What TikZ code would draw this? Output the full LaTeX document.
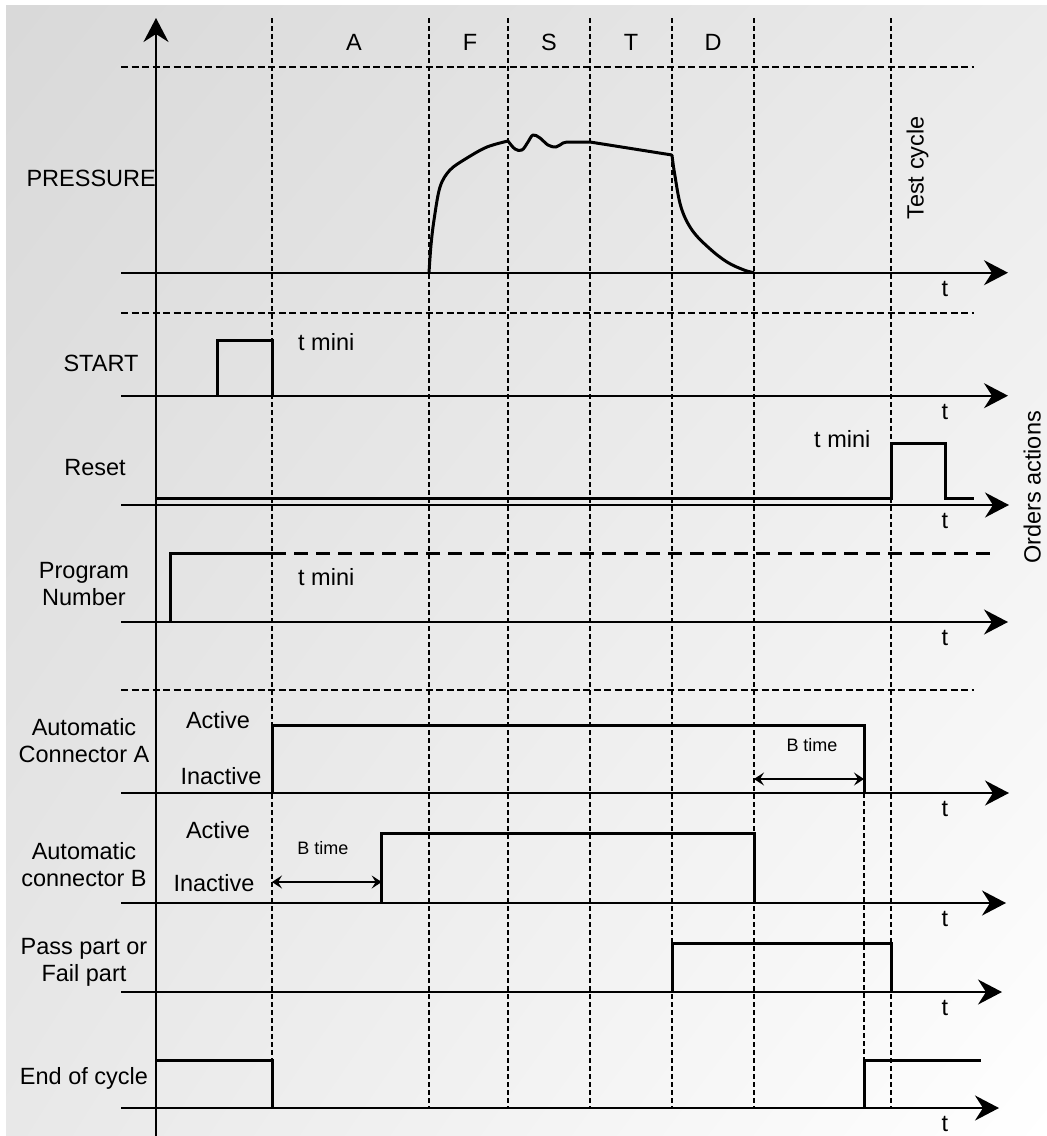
\documentclass[tikz,border=0pt]{standalone}
\usepackage{fontspec}
\setmainfont{Liberation Sans}
\usetikzlibrary{arrows.meta,shadings}
\tikzset{
  taxis/.style={line width=2pt,-{Stealth[length=24pt,width=25pt,inset=8pt]}},
  sig/.style={line width=3pt,line join=miter},
  phase/.style={line width=1.5pt,dash pattern=on 5pt off 3pt},
  band/.style={line width=1.5pt,dash pattern=on 7pt off 3.5pt},
  btime/.style={line width=1.6pt,{Stealth[length=10pt,width=13pt,inset=4pt]}-{Stealth[length=10pt,width=13pt,inset=4pt]}},
  lbl/.style={inner sep=0pt,text depth=0pt},
  small/.style={lbl,font=\fontsize{18pt}{21pt}\selectfont},
}
\begin{document}
\begin{tikzpicture}[x=1pt,y=-1pt,font=\fontsize{23.5pt}{27pt}\selectfont]
\useasboundingbox (0,0) rectangle (1047,1136);
\shade[upper left=gray!30,upper right=gray!16,lower left=gray!18,lower right=white] (6,5) rectangle (1047,1136);
% phase limits
\foreach \x in {272,429,508,590,672,754,891}
  \draw[phase] (\x,18) -- (\x,1108);
\draw[phase] (864,793) -- (864,1108);
\foreach \y in {67,313,690}
  \draw[band] (121,\y) -- (974,\y);
\foreach \n/\x in {A/354,F/470,S/549,T/631,D/713}
  \node[lbl] (ph\n) at (\x,42) {\n};
% time axes
\foreach \y/\tip [count=\i] in {272.7/1008,395.7/1008,505/1009,622/1008,793/1009,903/1006,992/1002,1108/999} {
  \draw[taxis] (121,\y) -- (\tip,\y);
  \node[lbl] (t\i) at (945,\y+16) {t};
}
\draw[taxis] (156,1136) -- (156,18);
% pressure
\draw[sig,line join=round]
  plot[smooth,tension=0.55] coordinates {(429,272.7) (431,245) (434,220) (440,187) (450,170) (467,158) (487,147) (508,141)}
  plot[smooth,tension=0.6] coordinates {(508,141) (515,149) (522,150) (528,142) (533,135) (540,138) (548,145) (556,147) (563,143) (568,142)}
  -- (590,142) -- (672,155)
  plot[smooth,tension=0.6] coordinates {(672,155) (674.5,173) (681,207) (692,230) (709,248) (727,262) (744,270) (754,272.7)};
% orders
\draw[sig] (217,395.7) -- (217,340.7) -- (272.7,340.7) -- (272.7,395.7);
\draw[sig] (155,498) -- (891,498) -- (891,443) -- (945,443) -- (945,498) -- (974,498);
\draw[sig] (170,622) -- (170,553) -- (272,553);
\draw[sig,dash pattern=on 14pt off 8pt] (272,553) -- (992,553);
% actions
\draw[sig] (272,793) -- (272,725) -- (864,725) -- (864,793);
\draw[sig] (381.7,903) -- (381.7,833) -- (754,833) -- (754,903);
\draw[sig] (672,992) -- (672,943) -- (891,943) -- (891,992);
\draw[sig] (156,1060) -- (272,1060) -- (272,1108);
\draw[sig] (864,1108) -- (864,1060) -- (981,1060);
\coordinate (bA1) at (754,779); \coordinate (bA2) at (864,779);
\coordinate (bB1) at (272,882); \coordinate (bB2) at (381.7,882);
\draw[btime] (bA1) -- (bA2);
\draw[btime] (bB1) -- (bB2);
\node[small] (btimeA) at (812,744.5) {B time};
\node[small] (btimeB) at (323,847.5) {B time};
% labels
\node[lbl,anchor=east] (pressure) at (156,178) {PRESSURE};
\node[lbl] (start) at (101,363) {START};
\node[lbl] (reset) at (95,467) {Reset};
\node[lbl,align=center] (prog) at (84,583.5) {Program\\Number};
\node[lbl,align=center] (connA) at (84,740.5) {Automatic\\Connector A};
\node[lbl,align=center] (connB) at (84,864) {Automatic\\connector B};
\node[lbl,align=center] (pass) at (84,959.5) {Pass part or\\Fail part};
\node[lbl] (eoc) at (84,1076) {End of cycle};
\node[lbl] (actA) at (218,720) {Active};
\node[lbl] (inactA) at (221,776) {Inactive};
\node[lbl] (actB) at (218,830) {Active};
\node[lbl] (inactB) at (214,883) {Inactive};
\node[lbl,anchor=west] (minStart) at (298,342) {t mini};
\node[lbl,anchor=west] (minProg) at (298,576.5) {t mini};
\node[lbl,anchor=west] (minReset) at (814,439) {t mini};
\node[lbl,rotate=90] (cycle) at (915,168) {Test cycle};
\node[lbl,rotate=90] (orders) at (1032,487.5) {Orders actions};
\end{tikzpicture}
\end{document}
